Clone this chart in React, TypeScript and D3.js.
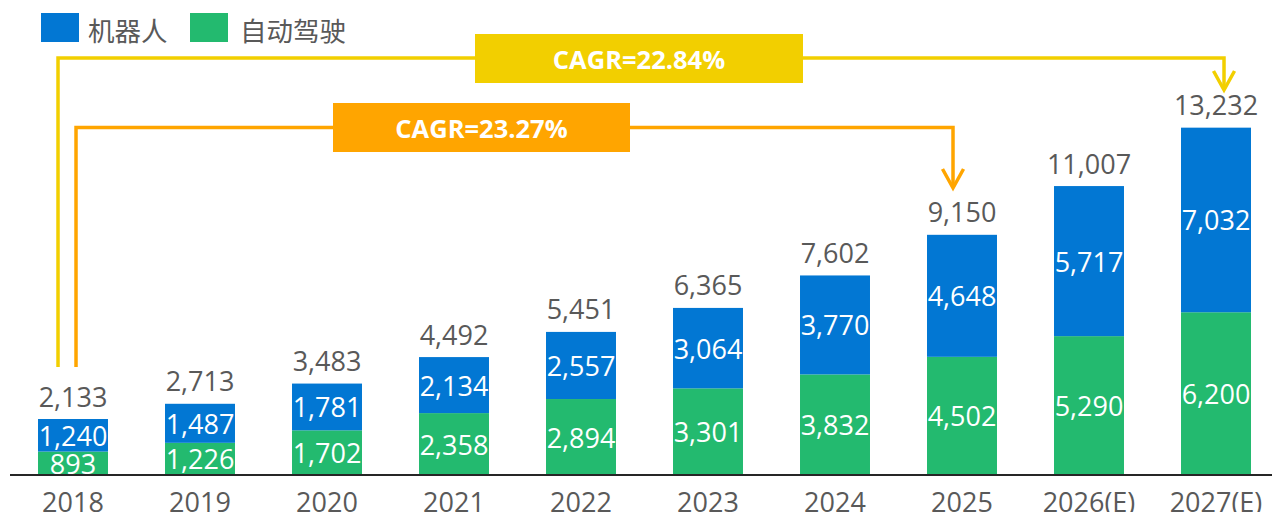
import React from "react";
import * as d3 from "d3";

const years = ["2018", "2019", "2020", "2021", "2022", "2023", "2024", "2025", "2026(E)", "2027(E)"];
const robot = [1240, 1487, 1781, 2134, 2557, 3064, 3770, 4648, 5717, 7032];
const autoDrive = [893, 1226, 1702, 2358, 2894, 3301, 3832, 4502, 5290, 6200];
const seriesNames = ["机器人", "自动驾驶"];
const cagrLabels = ["CAGR=22.84%", "CAGR=23.27%"];

const W = 1272;
const H = 512;
const BLUE = "#0277D3";
const GREEN = "#23BA6F";
const YELLOW = "#F2CF00";
const ORANGE = "#FFA500";
const GRAY = "#595959";
const NUM_FONT = "'Open Sans', 'Noto Sans', sans-serif";
const CJK_FONT = "'Noto Sans CJK SC', sans-serif";

export default function App() {
  const x = d3
    .scaleBand<string>()
    .domain(years)
    .range([9.5, 1279.5])
    .paddingInner(0.449)
    .paddingOuter(0.2245);
  const y = d3.scaleLinear().domain([0, 14000]).range([475, 107.5]);
  const fmt = d3.format(",");
  const totals = years.map((_, i) => robot[i] + autoDrive[i]);
  const bw = x.bandwidth();

  const x0 = x(years[0])!;
  const yellowPts: [number, number][] = [
    [x0 + 20, 367],
    [x0 + 20, 58],
    [x(years[9])! + 43, 58],
    [x(years[9])! + 43, 90],
  ];
  const orangePts: [number, number][] = [
    [x0 + 38, 367],
    [x0 + 38, 127.5],
    [x(years[7])! + 26, 127.5],
    [x(years[7])! + 26, 188],
  ];
  const line = d3.line();
  const arrowHead = (p: [number, number]) =>
    line([
      [p[0] - 10.5, p[1] - 19],
      [p[0], p[1]],
      [p[0] + 10.5, p[1] - 19],
    ]);

  const fs = 27;

  return (
    <svg
      width={W}
      height={H}
      style={{ position: "fixed", left: 0, top: 0, background: "#fff" }}
    >
      {/* Legend */}
      <rect x={41} y={13} width={38} height={29} fill={BLUE} />
      <text x={88} y={29} dominantBaseline="central" fontFamily={CJK_FONT} fontSize={26.5} fill={GRAY}>
        {seriesNames[0]}
      </text>
      <rect x={190} y={13} width={38} height={29} fill={GREEN} />
      <text x={240} y={29} dominantBaseline="central" fontFamily={CJK_FONT} fontSize={26.5} fill={GRAY}>
        {seriesNames[1]}
      </text>

      {/* Bars */}
      {years.map((yr, i) => {
        const bx = x(yr)!;
        const cx = bx + bw / 2;
        const gTop = y(autoDrive[i]);
        const tTop = y(totals[i]);
        return (
          <g key={yr}>
            <rect x={bx} y={gTop} width={bw} height={y(0) - gTop} fill={GREEN} />
            <rect x={bx} y={tTop} width={bw} height={gTop - tTop} fill={BLUE} />
            <text
              x={cx}
              y={(gTop + y(0)) / 2}
              textAnchor="middle"
              dominantBaseline="central"
              fontFamily={NUM_FONT}
              fontSize={fs}
              fill="#fff"
            >
              {fmt(autoDrive[i])}
            </text>
            <text
              x={cx}
              y={(gTop + tTop) / 2}
              textAnchor="middle"
              dominantBaseline="central"
              fontFamily={NUM_FONT}
              fontSize={fs}
              fill="#fff"
            >
              {fmt(robot[i])}
            </text>
            <text
              x={cx}
              y={tTop - 12.5}
              textAnchor="middle"
              fontFamily={NUM_FONT}
              fontSize={fs}
              fill={GRAY}
            >
              {fmt(totals[i])}
            </text>
            <text
              x={cx}
              y={511.5}
              textAnchor="middle"
              fontFamily={NUM_FONT}
              fontSize={fs}
              fill={GRAY}
            >
              {yr}
            </text>
          </g>
        );
      })}

      {/* Axis line */}
      <line x1={10} x2={W} y1={y(0)} y2={y(0)} stroke="#262626" strokeWidth={2} />

      {/* CAGR annotations */}
      <path d={line(yellowPts)!} fill="none" stroke={YELLOW} strokeWidth={3.5} />
      <path d={arrowHead(yellowPts[3])!} fill="none" stroke={YELLOW} strokeWidth={3.5} />
      <rect x={475} y={34} width={328} height={49} fill={YELLOW} />
      <text
        x={639}
        y={58.5}
        textAnchor="middle"
        dominantBaseline="central"
        fontFamily={NUM_FONT}
        fontWeight="bold"
        fontSize={25.5}
        fill="#fff"
      >
        {cagrLabels[0]}
      </text>

      <path d={line(orangePts)!} fill="none" stroke={ORANGE} strokeWidth={3.5} />
      <path d={arrowHead(orangePts[3])!} fill="none" stroke={ORANGE} strokeWidth={3.5} />
      <rect x={333} y={103} width={297} height={49} fill={ORANGE} />
      <text
        x={481.5}
        y={127.5}
        textAnchor="middle"
        dominantBaseline="central"
        fontFamily={NUM_FONT}
        fontWeight="bold"
        fontSize={25.5}
        fill="#fff"
      >
        {cagrLabels[1]}
      </text>
    </svg>
  );
}
